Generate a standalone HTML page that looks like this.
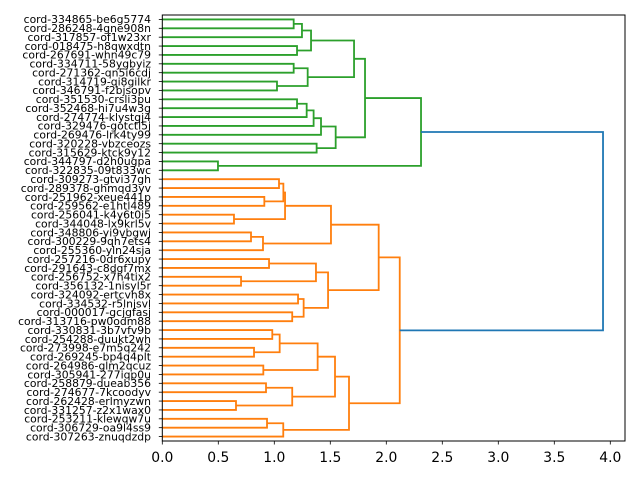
<!DOCTYPE html>
<html><head><meta charset="utf-8"><style>
html,body{margin:0;padding:0;background:#fff}
svg{display:block}
text{font-family:"DejaVu Sans","Liberation Sans",sans-serif}
</style></head><body>
<svg id="s" width="640" height="480" viewBox="0 0 640 480" xmlns="http://www.w3.org/2000/svg">
<g id="lines" fill="none" stroke-width="1.8"></g>
<rect x="162.3" y="15" width="462.7" height="426" fill="none" stroke="#000" stroke-width="1"/>
<g id="ticks" stroke="#000" stroke-width="0.8"></g>
<g font-size="10.8" text-anchor="end" fill="#000">
<text x="151" y="23.2">cord-334865-be6g5774</text>
<text x="151" y="32.1">cord-286248-4gne908n</text>
<text x="151" y="41">cord-317857-of1w23xr</text>
<text x="151" y="49.8">cord-018475-h8qwxdtn</text>
<text x="151" y="58.7">cord-267691-whn49c79</text>
<text x="151" y="67.6">cord-334711-58ygbyiz</text>
<text x="151" y="76.5">cord-271362-qn5i6cdj</text>
<text x="151" y="85.4">cord-314719-qi8gilkr</text>
<text x="151" y="94.2">cord-346791-f2bjsopv</text>
<text x="151" y="103.1">cord-351530-crsli3pu</text>
<text x="151" y="112">cord-352468-hi7u4w3g</text>
<text x="151" y="120.9">cord-274774-klystgj4</text>
<text x="151" y="129.7">cord-329476-gotctl5j</text>
<text x="151" y="138.6">cord-269476-lrk4ty99</text>
<text x="151" y="147.5">cord-320228-vbzceozs</text>
<text x="151" y="156.4">cord-315629-ktck9y12</text>
<text x="151" y="165.2">cord-344797-d2h0ugpa</text>
<text x="151" y="174.1">cord-322835-09t833wc</text>
<text x="151" y="183">cord-309273-gtvi37gh</text>
<text x="151" y="191.9">cord-289378-ghmqd3yv</text>
<text x="151" y="200.8">cord-251962-xeue441p</text>
<text x="151" y="209.6">cord-259562-e1htl489</text>
<text x="151" y="218.5">cord-256041-k4y6t0i5</text>
<text x="151" y="227.4">cord-344048-lx9krl5v</text>
<text x="151" y="236.3">cord-348806-yi9vbgwj</text>
<text x="151" y="245.1">cord-300229-9qh7ets4</text>
<text x="151" y="254">cord-255360-yln24sja</text>
<text x="151" y="262.9">cord-257216-0dr6xupy</text>
<text x="151" y="271.8">cord-291643-c8dgf7mx</text>
<text x="151" y="280.6">cord-256752-x7h4tix2</text>
<text x="151" y="289.5">cord-356132-1nisyl5r</text>
<text x="151" y="298.4">cord-324092-ertcvh8x</text>
<text x="151" y="307.3">cord-334532-r5lnjsvl</text>
<text x="151" y="316.1">cord-000017-gcjgfasj</text>
<text x="151" y="325">cord-313716-pw0odm88</text>
<text x="151" y="333.9">cord-330831-3b7vfv9b</text>
<text x="151" y="342.8">cord-254288-duukt2wh</text>
<text x="151" y="351.7">cord-273998-e7m5q242</text>
<text x="151" y="360.5">cord-269245-bp4q4plt</text>
<text x="151" y="369.4">cord-264986-glm2qcuz</text>
<text x="151" y="378.3">cord-305941-277iqp0u</text>
<text x="151" y="387.2">cord-258879-dueab356</text>
<text x="151" y="396">cord-274677-7kcoodyv</text>
<text x="151" y="404.9">cord-262428-erlmyzwn</text>
<text x="151" y="413.8">cord-331257-z2x1wax0</text>
<text x="151" y="422.7">cord-253211-klewqw7u</text>
<text x="151" y="431.5">cord-306729-oa9l4ss9</text>
<text x="151" y="440.4">cord-307263-znuqdzdp</text>
</g>
<g font-size="13.9" text-anchor="middle" fill="#000">
<text x="162.3" y="462">0.0</text>
<text x="218.3" y="462">0.5</text>
<text x="274.3" y="462">1.0</text>
<text x="330.3" y="462">1.5</text>
<text x="386.3" y="462">2.0</text>
<text x="442.3" y="462">2.5</text>
<text x="498.3" y="462">3.0</text>
<text x="554.3" y="462">3.5</text>
<text x="610.3" y="462">4.0</text>
</g>
</svg>
<script>
(function(){
var X=function(v){return 162.3+112*v;};
var Y=function(i){return 15+8.875*(i-0.5);};
var g=document.getElementById('lines'),t=document.getElementById('ticks');
var ns='http://www.w3.org/2000/svg';
function L(i){return {y:Y(i),h:0};}
function N(a,b,h,c){
 var p=document.createElementNS(ns,'path');
 p.setAttribute('d','M'+X(a.h)+' '+a.y+'H'+X(h)+'V'+b.y+'H'+X(b.h));
 p.setAttribute('stroke',c);g.appendChild(p);
 return {y:(a.y+b.y)/2,h:h};
}
var G='#2ca02c',O='#ff7f0e',B='#1f77b4';
var a=N(N(N(L(1),L(2),1.173,G),L(3),1.247,G),N(L(4),L(5),1.203,G),1.328,G);
var b=N(N(L(6),L(7),1.173,G),N(L(8),L(9),1.024,G),1.298,G);
var ab=N(a,b,1.712,G);
var c=N(N(N(N(N(L(10),L(11),1.203,G),L(12),1.289,G),L(13),1.351,G),L(14),1.417,G),N(L(15),L(16),1.378,G),1.548,G);
var g1=N(N(ab,c,1.810,G),N(L(17),L(18),0.497,G),2.31,G);
var d=N(N(N(L(19),L(20),1.042,O),N(L(21),L(22),0.911,O),1.081,O),N(L(23),L(24),0.640,O),1.096,O);
var e=N(d,N(N(L(25),L(26),0.792,O),L(27),0.899,O),1.506,O);
var f=N(N(N(L(28),L(29),0.953,O),N(L(30),L(31),0.703,O),1.372,O),N(N(L(32),L(33),1.212,O),N(L(34),L(35),1.160,O),1.262,O),1.480,O);
var ef=N(e,f,1.932,O);
var h=N(N(N(L(36),L(37),0.982,O),N(L(38),L(39),0.819,O),1.048,O),N(L(40),L(41),0.902,O),1.387,O);
var k=N(h,N(N(L(42),L(43),0.926,O),N(L(44),L(45),0.658,O),1.160,O),1.542,O);
var m=N(k,N(N(L(46),L(47),0.935,O),L(48),1.080,O),1.667,O);
var o=N(ef,m,2.120,O);
N(g1,o,3.935,B);
for(var i=1;i<=48;i++){var l=document.createElementNS(ns,'line');l.setAttribute('x1',158.8);l.setAttribute('x2',162.3);l.setAttribute('y1',Y(i));l.setAttribute('y2',Y(i));t.appendChild(l);}
for(var j=0;j<=8;j++){var l2=document.createElementNS(ns,'line');var x=X(j*0.5);l2.setAttribute('x1',x);l2.setAttribute('x2',x);l2.setAttribute('y1',441);l2.setAttribute('y2',444.5);t.appendChild(l2);}
})();
</script>
</body></html>
